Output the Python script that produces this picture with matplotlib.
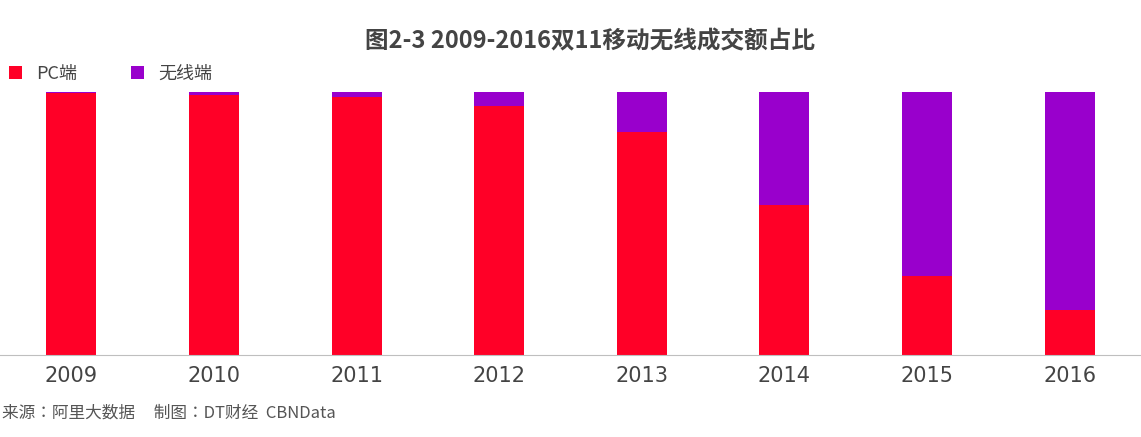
import matplotlib

matplotlib.use("Agg")
import matplotlib.pyplot as plt
import numpy as np

plt.rcParams["font.family"] = "sans-serif"
plt.rcParams["font.sans-serif"] = ["Noto Sans CJK SC", "Noto Sans CJK JP", "Noto Sans CJK TC",
                                   "Noto Sans CJK KR", "DejaVu Sans"]

YEARS = ["2009", "2010", "2011", "2012", "2013", "2014", "2015", "2016"]
WIRELESS = [0.3, 1.2, 2.0, 5.3, 15.2, 43.0, 70.0, 83.0]
PC = [100 - w for w in WIRELESS]

fig = plt.figure(figsize=(11.41, 4.37), dpi=100)
ax = fig.add_axes([0.0, 0.188, 1.0, 0.602])
x = np.arange(len(YEARS))
ax.bar(x, PC, 0.35, color="#ff0027", label="PC端")
ax.bar(x, WIRELESS, 0.35, bottom=PC, color="#9900cc", label="无线端")
ax.set_xlim(-0.5, 7.5)
ax.set_ylim(0, 100)
ax.set_xticks(x)
ax.set_xticklabels(YEARS, fontsize=15, color="#444444", fontfamily="DejaVu Sans")
ax.tick_params(axis="x", length=0, pad=8)
ax.set_yticks([])
for side in ("top", "left", "right"):
    ax.spines[side].set_visible(False)
ax.spines["bottom"].set_color("#bfbfbf")

ax.legend(loc="lower left", bbox_to_anchor=(0.0, 1.0), ncol=2, frameon=False,
          fontsize=13, handlelength=0.7, handleheight=0.7, columnspacing=3,
          borderaxespad=0.1, labelcolor="#444444")
fig.text(0.517, 0.905, "图2-3 2009-2016双11移动无线成交额占比", ha="center", va="center",
         fontsize=17, fontweight="bold", color="#444444")
fig.text(0.002, 0.055, "来源：阿里大数据     制图：DT财经  CBNData", ha="left", va="center",
         fontsize=12, color="#555555")
fig.savefig("out.png", dpi=100)
